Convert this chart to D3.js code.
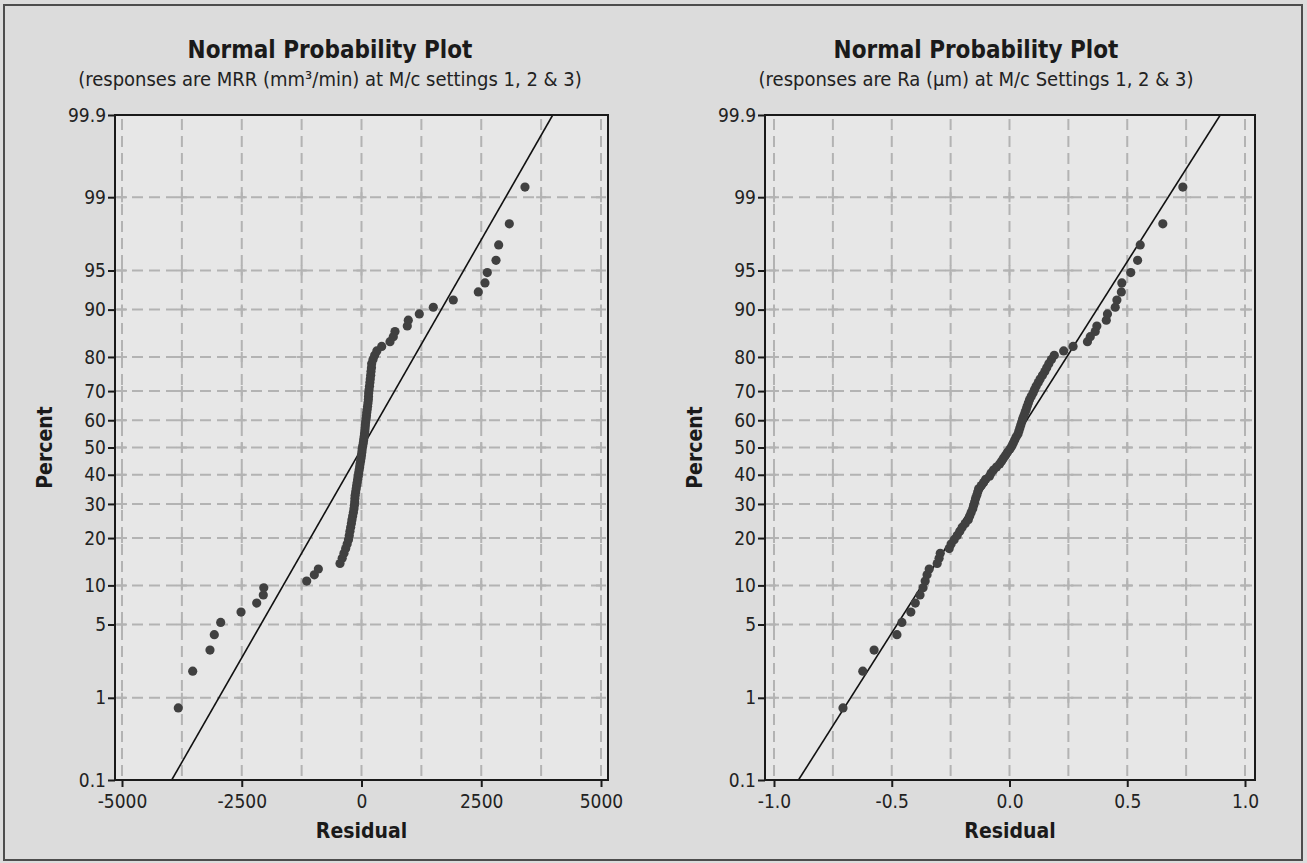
<!DOCTYPE html>
<html>
<head>
<meta charset="utf-8">
<script src="https://cdn.jsdelivr.net/npm/d3@7"></script>
<style>
  body { margin: 0; background: #dcdcdc; }
  svg { display: block; }
</style>
</head>
<body>
<div id="chart"></div>
<script>
var W = 1307, H = 863;

// y axis of both plots (percent, normal probability scale)
var percentTicks = [0.1, 1, 5, 10, 20, 30, 40, 50, 60, 70, 80, 90, 95, 99, 99.9];

// left plot: MRR residuals, sorted
var mrrTicks = [-5000, -2500, 0, 2500, 5000];
var mrrGrid = [-5000, -3750, -2500, -1250, 0, 1250, 2500, 3750, 5000];
var mrrResiduals = [
  -3825, -3524, -3163, -3073, -2940, -2515, -2188, -2050, -2040, -1144,
  -985, -901, -449, -403, -366, -330, -299, -272, -255, -241,
  -226, -211, -199, -184, -170, -157, -149, -142, -138, -132,
  -122, -111, -101, -90, -80, -69, -59, -49, -38, -30,
  -19, -9, 0, 8, 14, 25, 37, 45, 54, 62,
  70, 75, 81, 87, 96, 104, 110, 119, 127, 135,
  143, 146, 150, 158, 167, 175, 183, 192, 198, 208,
  212, 240, 275, 320, 422, 595, 664, 699, 956, 977,
  1207, 1499, 1916, 2438, 2578, 2626, 2808, 2864, 3086, 3413
];
var mrrFit = [-3962, 3992]; // fitted line at 0.1 % and 99.9 %

// right plot: Ra residuals, sorted
var raTicks = [-1.0, -0.5, 0.0, 0.5, 1.0];
var raGrid = [-1.0, -0.75, -0.5, -0.25, 0.0, 0.25, 0.5, 0.75, 1.0];
var raResiduals = [
  -0.707, -0.623, -0.575, -0.478, -0.457, -0.419, -0.400, -0.380, -0.367, -0.358,
  -0.350, -0.341, -0.307, -0.299, -0.294, -0.256, -0.248, -0.235, -0.222, -0.211,
  -0.201, -0.188, -0.175, -0.169, -0.163, -0.156, -0.152, -0.148, -0.144, -0.139,
  -0.135, -0.131, -0.120, -0.110, -0.101, -0.085, -0.078, -0.068, -0.055, -0.042,
  -0.033, -0.025, -0.016, -0.008, 0.002, 0.010, 0.016, 0.022, 0.028, 0.036,
  0.040, 0.044, 0.048, 0.052, 0.056, 0.061, 0.066, 0.071, 0.075, 0.080,
  0.085, 0.092, 0.100, 0.106, 0.113, 0.122, 0.130, 0.140, 0.150, 0.158,
  0.167, 0.178, 0.190, 0.230, 0.270, 0.331, 0.343, 0.364, 0.371, 0.411,
  0.416, 0.449, 0.456, 0.475, 0.477, 0.515, 0.544, 0.555, 0.651, 0.736
];
var raFit = [-0.896, 0.895];

var panels = [
  { title: "Normal Probability Plot",
    subtitle: "(responses are MRR (mm\u00b3/min) at M/c settings 1, 2 & 3)",
    cx: 330, left: 115, right: 608, x0: 122, x1: 601,
    ticks: mrrTicks, grid: mrrGrid, values: mrrResiduals, fit: mrrFit,
    fmt: function(d) { return String(d); } },
  { title: "Normal Probability Plot",
    subtitle: "(responses are Ra (\u00b5m) at M/c Settings 1, 2 & 3)",
    cx: 976, left: 765, right: 1255, x0: 774, x1: 1245,
    ticks: raTicks, grid: raGrid, values: raResiduals, fit: raFit,
    fmt: function(d) { return d.toFixed(1); } }
];

var plotTop = 115, plotBottom = 780;
var font = "'DejaVu Sans Condensed', 'DejaVu Sans', sans-serif";

// inverse normal cdf (Acklam)
function probit(p) {
  var a = [-3.969683028665376e+01, 2.209460984245205e+02, -2.759285104469687e+02, 1.383577518672690e+02, -3.066479806614716e+01, 2.506628277459239e+00];
  var b = [-5.447609879822406e+01, 1.615858368580409e+02, -1.556989798598866e+02, 6.680131188771972e+01, -1.328068155288572e+01];
  var c = [-7.784894002430293e-03, -3.223964580411365e-01, -2.400758277161838e+00, -2.549732539343734e+00, 4.374664141464968e+00, 2.938163982698783e+00];
  var d = [7.784695709041462e-03, 3.224671290700398e-01, 2.445134137142996e+00, 3.754408661907416e+00];
  var pl = 0.02425, q, r;
  if (p < pl) {
    q = Math.sqrt(-2 * Math.log(p));
    return (((((c[0]*q+c[1])*q+c[2])*q+c[3])*q+c[4])*q+c[5]) / ((((d[0]*q+d[1])*q+d[2])*q+d[3])*q+1);
  }
  if (p > 1 - pl) {
    q = Math.sqrt(-2 * Math.log(1 - p));
    return -(((((c[0]*q+c[1])*q+c[2])*q+c[3])*q+c[4])*q+c[5]) / ((((d[0]*q+d[1])*q+d[2])*q+d[3])*q+1);
  }
  q = p - 0.5; r = q * q;
  return (((((a[0]*r+a[1])*r+a[2])*r+a[3])*r+a[4])*r+a[5])*q / (((((b[0]*r+b[1])*r+b[2])*r+b[3])*r+b[4])*r+1);
}

var y = d3.scaleLinear()
  .domain([probit(0.001), probit(0.999)])
  .range([plotBottom, plotTop]);
var yp = function(pct) { return y(probit(pct / 100)); };

var svg = d3.select("#chart").append("svg")
  .attr("width", W).attr("height", H);

svg.append("rect").attr("x", 4).attr("y", 5)
  .attr("width", W - 9).attr("height", H - 8)
  .attr("fill", "#dcdcdc").attr("stroke", "#4d4d4d").attr("stroke-width", 2);

var innerGrid = percentTicks.filter(function(p) { return p > 0.1 && p < 99.9; });

panels.forEach(function(pn, k) {
  var x = d3.scaleLinear().domain([pn.ticks[0], pn.ticks[pn.ticks.length - 1]]).range([pn.x0, pn.x1]);
  var g = svg.append("g");

  g.append("rect").attr("x", pn.left).attr("y", plotTop)
    .attr("width", pn.right - pn.left).attr("height", plotBottom - plotTop)
    .attr("fill", "#e7e7e7");

  g.append("clipPath").attr("id", "clip" + k)
    .append("rect").attr("x", pn.left).attr("y", plotTop)
    .attr("width", pn.right - pn.left).attr("height", plotBottom - plotTop);

  // dashed grid
  var grid = g.append("g").attr("stroke", "#b3b3b3").attr("stroke-width", 2);
  grid.selectAll("line.v").data(pn.grid).enter().append("line")
    .attr("x1", function(d) { return x(d); }).attr("x2", function(d) { return x(d); })
    .attr("y1", plotTop + 4).attr("y2", plotBottom)
    .attr("stroke-dasharray", "11,6");
  grid.selectAll("line.h").data(innerGrid).enter().append("line")
    .attr("y1", function(d) { return yp(d); }).attr("y2", function(d) { return yp(d); })
    .attr("x1", pn.left).attr("x2", pn.right)
    .attr("stroke-dasharray", "11,6");
  pn.grid.forEach(function(gx) {
    innerGrid.forEach(function(gy) {
      grid.append("path")
        .attr("d", "M" + (x(gx) - 5) + "," + yp(gy) + "h10M" + x(gx) + "," + (yp(gy) - 5) + "v10");
    });
  });

  // fitted line
  g.append("line").attr("clip-path", "url(#clip" + k + ")")
    .attr("x1", x(pn.fit[0])).attr("y1", yp(0.1))
    .attr("x2", x(pn.fit[1])).attr("y2", yp(99.9))
    .attr("stroke", "#111").attr("stroke-width", 1.6);

  // points at median ranks (i - 0.3) / (n + 0.4)
  var n = pn.values.length;
  g.selectAll("circle").data(pn.values).enter().append("circle")
    .attr("cx", function(d) { return x(d); })
    .attr("cy", function(d, i) { return yp((i + 0.7) / (n + 0.4) * 100); })
    .attr("r", 4.6)
    .attr("fill", "#404040");

  g.append("rect").attr("x", pn.left).attr("y", plotTop)
    .attr("width", pn.right - pn.left).attr("height", plotBottom - plotTop)
    .attr("fill", "none").attr("stroke", "#1a1a1a").attr("stroke-width", 2);

  // axes
  var ax = g.append("g").attr("transform", "translate(0," + plotBottom + ")")
    .call(d3.axisBottom(x).tickValues(pn.ticks).tickFormat(pn.fmt).tickSize(7).tickSizeOuter(0).tickPadding(8));
  var ay = g.append("g").attr("transform", "translate(" + pn.left + ",0)")
    .call(d3.axisLeft(y).tickValues(percentTicks.map(function(p) { return probit(p / 100); }))
      .tickFormat(function(d, i) { return percentTicks[i]; })
      .tickSize(7).tickSizeOuter(0).tickPadding(2));
  [ax, ay].forEach(function(a) {
    a.select(".domain").remove();
    a.selectAll("line").attr("stroke", "#1a1a1a").attr("stroke-width", 2);
    a.selectAll("text").attr("fill", "#222").style("font-family", font).style("font-size", "19px");
  });

  g.append("text").attr("x", pn.cx).attr("y", 58)
    .attr("text-anchor", "middle").style("font-family", font)
    .style("font-size", "24px").style("font-weight", "bold").attr("fill", "#1a1a1a")
    .text(pn.title);
  g.append("text").attr("x", pn.cx).attr("y", 86)
    .attr("text-anchor", "middle").style("font-family", font)
    .style("font-size", "20px").attr("fill", "#222")
    .text(pn.subtitle);
  g.append("text").attr("x", (pn.left + pn.right) / 2).attr("y", 838)
    .attr("text-anchor", "middle").style("font-family", font)
    .style("font-size", "21px").style("font-weight", "bold").attr("fill", "#1a1a1a")
    .text("Residual");
  g.append("text").attr("transform", "translate(" + (pn.left - 63) + "," + ((plotTop + plotBottom) / 2) + ") rotate(-90)")
    .attr("text-anchor", "middle").style("font-family", font)
    .style("font-size", "21px").style("font-weight", "bold").attr("fill", "#1a1a1a")
    .text("Percent");
});
</script>
</body>
</html>
